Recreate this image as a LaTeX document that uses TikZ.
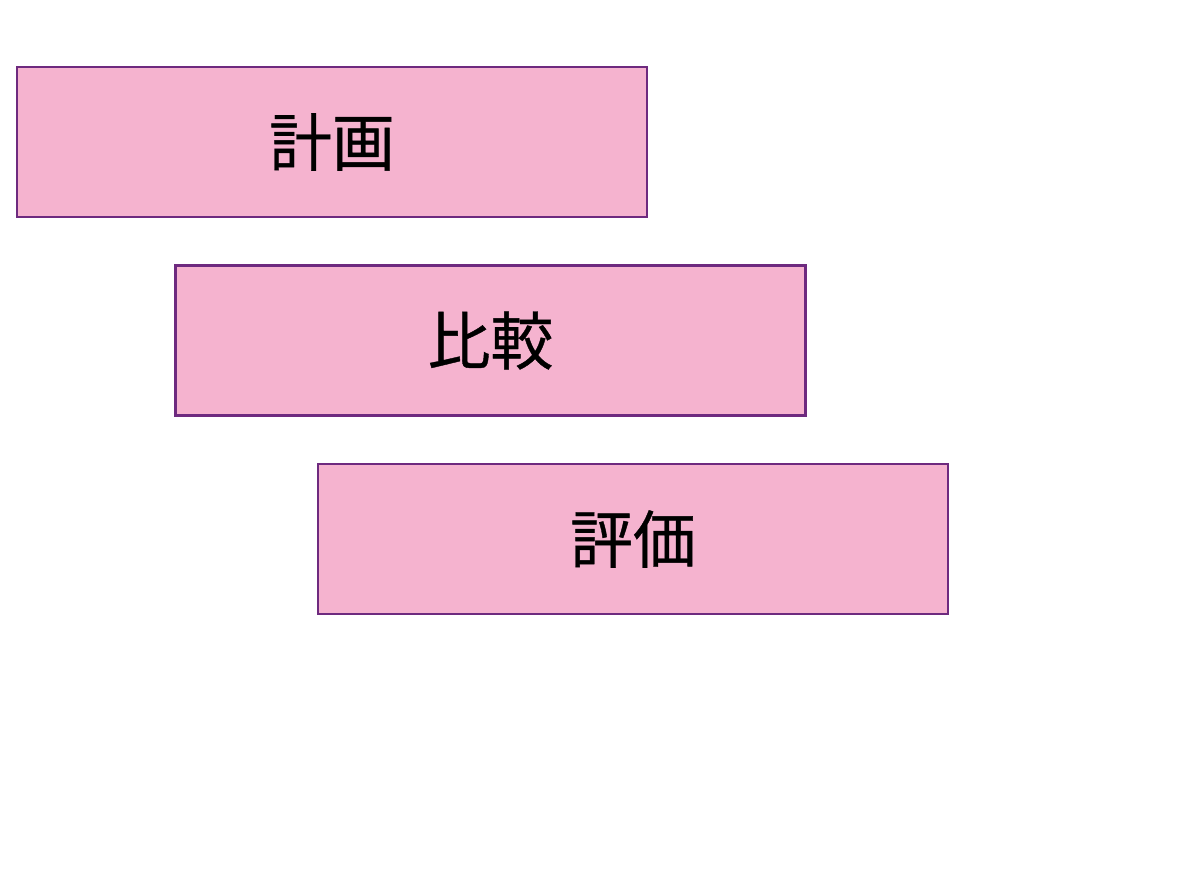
\documentclass[tikz,border=0pt]{standalone}
\usepackage{fontspec}
\newfontfamily\cjk[FakeBold=0.6]{Noto Sans CJK JP}
\definecolor{boxfill}{HTML}{F5B3CF}
\definecolor{boxline}{HTML}{6E2A7F}
\begin{document}
\begin{tikzpicture}[x=1bp,y=-1bp,
  stepbox/.style={draw=boxline,line width=2.2bp,fill=boxfill,minimum width=630bp,minimum height=150bp,inner sep=0pt,font=\cjk\fontsize{63}{63}\selectfont,text=black}]
\useasboundingbox (0,0) rectangle (1193,896);
\node[stepbox] (a) at (332,142) {計画};
\node[stepbox] (b) at (490.5,340.5) {比較};
\node[stepbox] (c) at (633,539) {評価};
\end{tikzpicture}
\end{document}
